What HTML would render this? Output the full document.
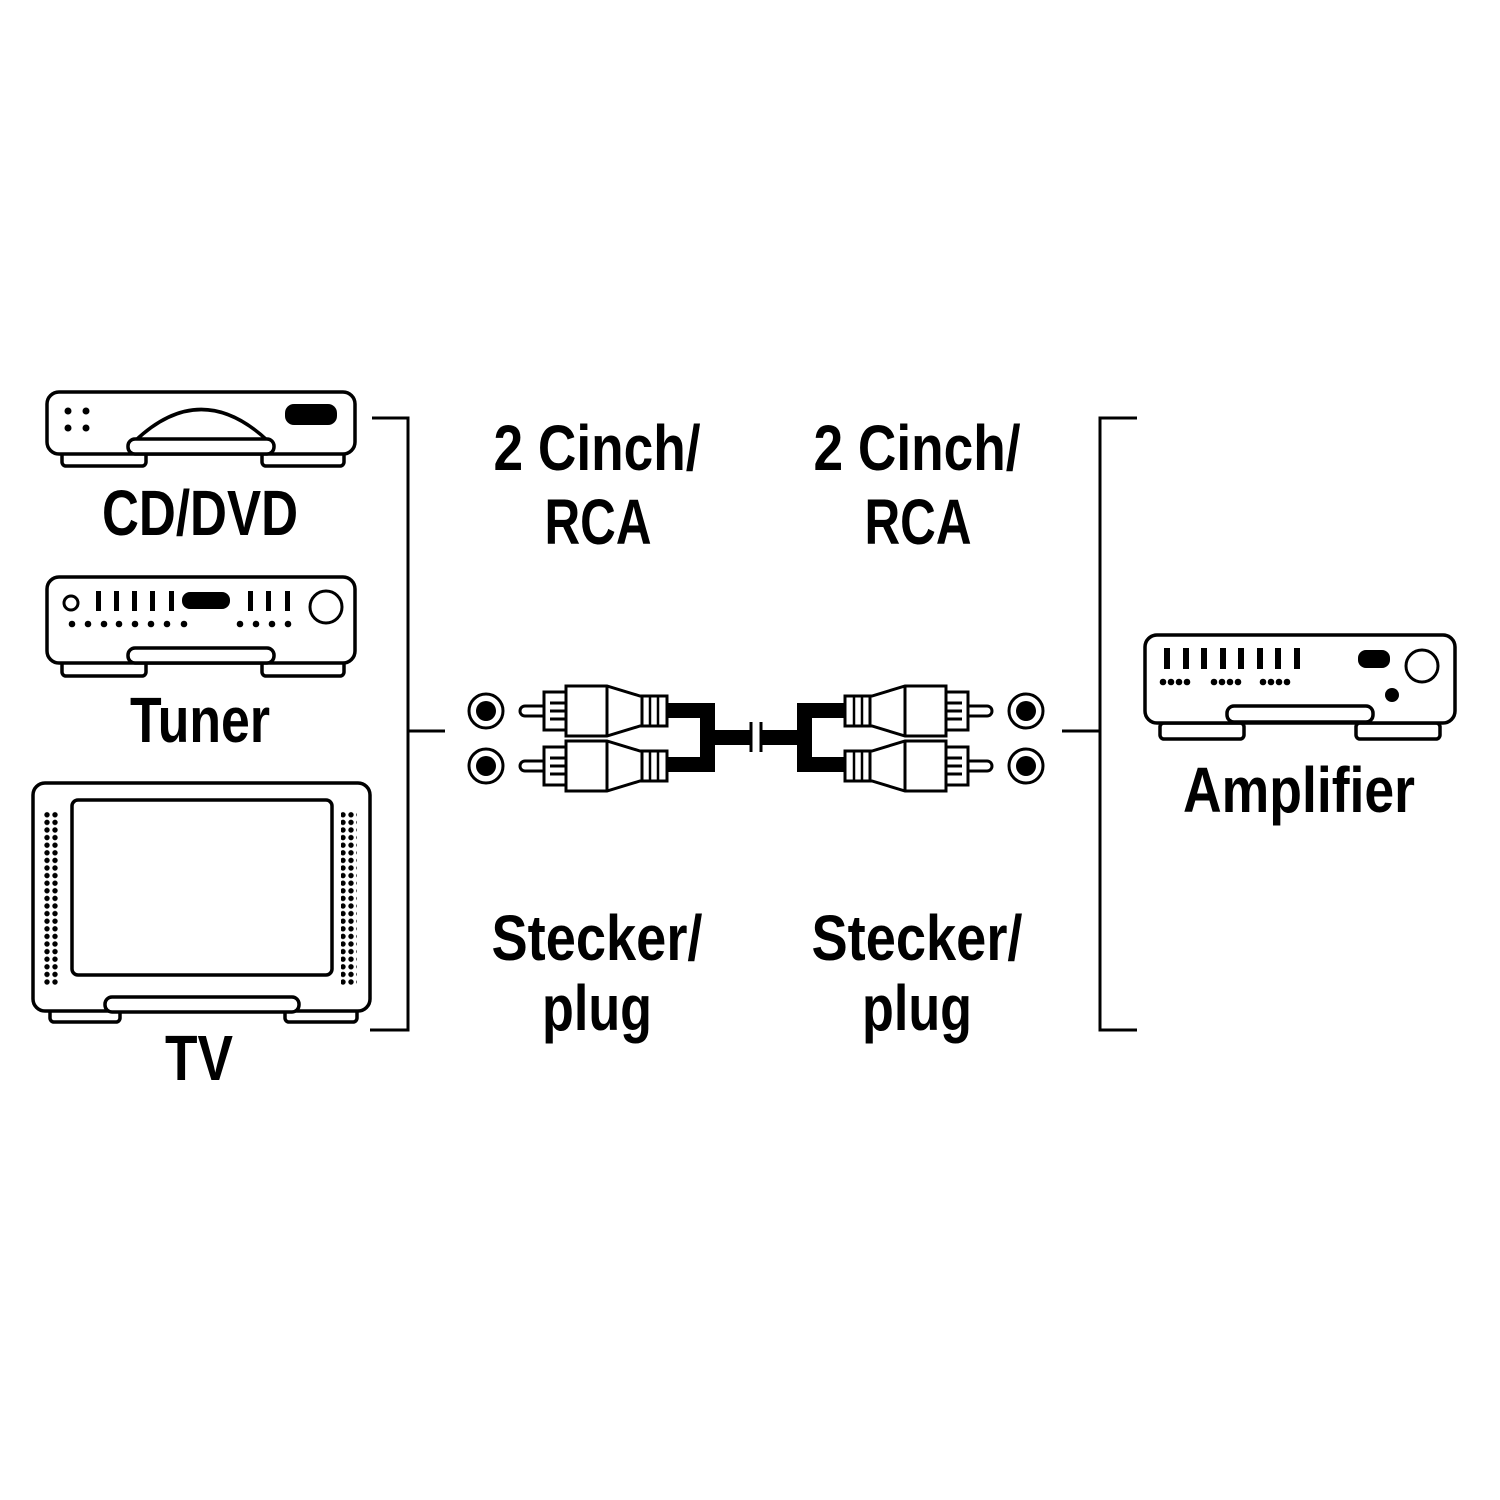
<!DOCTYPE html>
<html><head><meta charset="utf-8"><style>html,body{margin:0;padding:0;background:#fff}svg{display:block}</style></head>
<body>
<svg width="1500" height="1500" viewBox="0 0 1500 1500" xmlns="http://www.w3.org/2000/svg">
<defs>
<pattern id="tvd" x="43" y="811" width="8" height="7.6" patternUnits="userSpaceOnUse"><circle cx="4" cy="3.8" r="2.7" fill="#000"/></pattern>
<g id="plug">
  <rect x="520" y="-5" width="30" height="10" rx="5" fill="#fff" stroke="#000" stroke-width="3"/>
  <rect x="544" y="-19" width="22" height="38" fill="#fff" stroke="#000" stroke-width="3"/>
  <line x1="550" y1="-8" x2="566" y2="-8" stroke="#000" stroke-width="3"/>
  <line x1="550" y1="0" x2="566" y2="0" stroke="#000" stroke-width="3"/>
  <line x1="550" y1="8" x2="566" y2="8" stroke="#000" stroke-width="3"/>
  <path d="M566,-25 L607,-25 L640,-15 L645,-15 L645,15 L640,15 L607,25 L566,25 Z" fill="#fff" stroke="#000" stroke-width="3"/>
  <line x1="607" y1="-25" x2="607" y2="25" stroke="#000" stroke-width="3"/>
  <rect x="642" y="-15" width="25" height="30" fill="#fff" stroke="#000" stroke-width="3"/>
  <line x1="650" y1="-15" x2="650" y2="15" stroke="#000" stroke-width="2.5"/>
  <line x1="658" y1="-15" x2="658" y2="15" stroke="#000" stroke-width="2.5"/>
</g>
<g id="jack">
  <circle cx="486" cy="0" r="17" fill="#fff" stroke="#000" stroke-width="3"/>
  <circle cx="486" cy="0" r="10" fill="#000"/>
</g>
<g id="half">
  <use href="#jack" transform="translate(0,711)"/>
  <use href="#jack" transform="translate(0,766)"/>
  <use href="#plug" transform="translate(0,711)"/>
  <use href="#plug" transform="translate(0,766)"/>
  <path d="M667,703 L715,703 L715,730 L751,730 L751,745 L715,745 L715,772 L667,772 L667,757 L700,757 L700,718 L667,718 Z" fill="#000"/>
  <line x1="751" y1="722" x2="751" y2="752" stroke="#000" stroke-width="3"/>
</g>
</defs>

<g fill="#fff" stroke="#000" stroke-width="3.5" stroke-linejoin="round">
<rect x="62" y="448" width="84" height="18" rx="4"/>
<rect x="262" y="448" width="82" height="18" rx="4"/>
<rect x="47" y="392" width="308" height="62" rx="12"/>
<path d="M135,441 Q201,378 268,441"/>
<rect x="128" y="439" width="146" height="15" rx="7"/>
<rect x="62" y="658" width="84" height="18" rx="4"/>
<rect x="262" y="658" width="82" height="18" rx="4"/>
<rect x="47" y="577" width="308" height="86" rx="12"/>
<rect x="128" y="648" width="146" height="15" rx="7"/>
<circle cx="71" cy="603" r="7" stroke-width="3"/>
<circle cx="326" cy="607" r="16" stroke-width="3"/>
<rect x="50" y="1008" width="70" height="14" rx="4"/>
<rect x="285" y="1008" width="72" height="14" rx="4"/>
<rect x="33" y="783" width="337" height="228" rx="12"/>
<rect x="72" y="800" width="260" height="175" rx="6"/>
<rect x="105" y="997" width="194" height="15" rx="7"/>
<rect x="1160" y="723" width="84" height="16" rx="4"/>
<rect x="1356" y="723" width="84" height="16" rx="4"/>
<rect x="1145" y="635" width="310" height="88" rx="12"/>
<rect x="1227" y="706" width="146" height="16" rx="7"/>
<circle cx="1422" cy="666" r="16" stroke-width="3"/>
</g>

<g fill="#000">
<circle cx="68" cy="411" r="3.5"/><circle cx="86" cy="411" r="3.5"/>
<circle cx="68" cy="428" r="3.5"/><circle cx="86" cy="428" r="3.5"/>
<rect x="285" y="404" width="52" height="21" rx="9"/>
<rect x="96" y="591" width="5" height="20"/><rect x="114" y="591" width="5" height="20"/>
<rect x="132" y="591" width="5" height="20"/><rect x="150" y="591" width="5" height="20"/>
<rect x="169" y="591" width="5" height="20"/>
<rect x="182" y="592" width="48" height="17" rx="8"/>
<rect x="248" y="591" width="5" height="20"/><rect x="266" y="591" width="5" height="20"/><rect x="285" y="591" width="5" height="20"/>
<circle cx="72" cy="624" r="3.3"/><circle cx="88" cy="624" r="3.3"/><circle cx="104" cy="624" r="3.3"/><circle cx="119" cy="624" r="3.3"/>
<circle cx="135" cy="624" r="3.3"/><circle cx="151" cy="624" r="3.3"/><circle cx="167" cy="624" r="3.3"/><circle cx="184" cy="624" r="3.3"/>
<circle cx="240" cy="624" r="3.3"/><circle cx="256" cy="624" r="3.3"/><circle cx="272" cy="624" r="3.3"/><circle cx="288" cy="624" r="3.3"/>
<rect x="1164" y="648" width="6" height="21"/><rect x="1183" y="648" width="6" height="21"/><rect x="1201" y="648" width="6" height="21"/>
<rect x="1220" y="648" width="6" height="21"/><rect x="1238" y="648" width="6" height="21"/><rect x="1257" y="648" width="6" height="21"/>
<rect x="1275" y="648" width="6" height="21"/><rect x="1294" y="648" width="6" height="21"/>
<circle cx="1163" cy="682" r="3.3"/><circle cx="1171" cy="682" r="3.3"/><circle cx="1179" cy="682" r="3.3"/><circle cx="1187" cy="682" r="3.3"/>
<circle cx="1214" cy="682" r="3.3"/><circle cx="1222" cy="682" r="3.3"/><circle cx="1230" cy="682" r="3.3"/><circle cx="1238" cy="682" r="3.3"/>
<circle cx="1263" cy="682" r="3.3"/><circle cx="1271" cy="682" r="3.3"/><circle cx="1279" cy="682" r="3.3"/><circle cx="1287" cy="682" r="3.3"/>
<rect x="1358" y="650" width="32" height="18" rx="8"/>
<circle cx="1392" cy="695" r="7"/>
</g>
<rect x="43" y="811" width="16" height="175" fill="url(#tvd)"/>
<rect x="341" y="811" width="16" height="175" fill="url(#tvd)"/>

<g stroke="#000" stroke-width="3" fill="none">
<polyline points="372,418 408,418 408,1030 370,1030"/>
<line x1="408" y1="731" x2="445" y2="731"/>
<polyline points="1137,418 1100,418 1100,1030 1137,1030"/>
<line x1="1062" y1="731" x2="1100" y2="731"/>
</g>

<use href="#half"/>
<use href="#half" transform="translate(1512,0) scale(-1,1)"/>

<g font-family="'Liberation Sans Narrow','Liberation Sans',sans-serif" font-weight="bold" font-size="64" fill="#000" text-anchor="middle">
<text x="597" y="470" textLength="207" lengthAdjust="spacingAndGlyphs">2 Cinch/</text>
<text x="598" y="544" textLength="107" lengthAdjust="spacingAndGlyphs">RCA</text>
<text x="917" y="470" textLength="207" lengthAdjust="spacingAndGlyphs">2 Cinch/</text>
<text x="918" y="544" textLength="107" lengthAdjust="spacingAndGlyphs">RCA</text>
<text x="597" y="960" textLength="211" lengthAdjust="spacingAndGlyphs">Stecker/</text>
<text x="597" y="1030" textLength="110" lengthAdjust="spacingAndGlyphs">plug</text>
<text x="917" y="960" textLength="211" lengthAdjust="spacingAndGlyphs">Stecker/</text>
<text x="917" y="1030" textLength="110" lengthAdjust="spacingAndGlyphs">plug</text>
<text x="200" y="535" textLength="196" lengthAdjust="spacingAndGlyphs">CD/DVD</text>
<text x="200" y="742" textLength="140" lengthAdjust="spacingAndGlyphs">Tuner</text>
<text x="199" y="1080" textLength="68" lengthAdjust="spacingAndGlyphs">TV</text>
<text x="1299" y="812" textLength="232" lengthAdjust="spacingAndGlyphs">Amplifier</text>
</g>
</svg>
</body></html>
